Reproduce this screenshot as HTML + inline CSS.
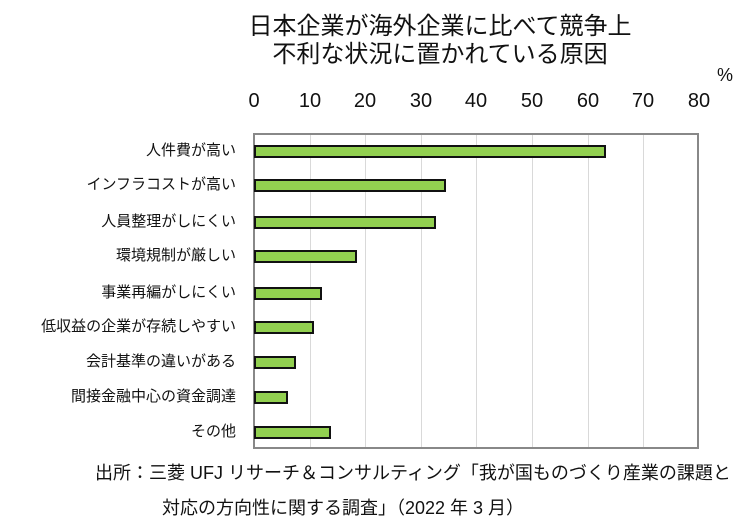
<!DOCTYPE html>
<html><head><meta charset="utf-8"><style>
body{margin:0;width:750px;height:530px;background:#fff;position:relative;overflow:hidden;font-family:"Liberation Sans","Noto Sans CJK JP",sans-serif;color:#111}
.t{position:absolute;white-space:nowrap}
.lab{position:absolute;right:514px;font-size:15px;line-height:16px;white-space:nowrap}
.tick{position:absolute;top:90px;font-size:20px;width:50px;text-align:center;margin-left:-25px}
.g{position:absolute;top:133px;height:316px;width:1px;background:#d9d9d9}
.bar{position:absolute;left:254px;height:13px;background:#92d050;border:2px solid #111;box-sizing:border-box}
</style></head><body>
<div class="t" style="left:0;width:880px;text-align:center;top:13px;font-size:24px;line-height:28px">日本企業が海外企業に比べて競争上<br>不利な状況に置かれている原因</div>
<div class="t" style="left:717px;top:65px;font-size:18px">%</div>
<div class="tick" style="left:254px">0</div><div class="tick" style="left:310px">10</div><div class="tick" style="left:365px">20</div><div class="tick" style="left:421px">30</div><div class="tick" style="left:476px">40</div><div class="tick" style="left:532px">50</div><div class="tick" style="left:588px">60</div><div class="tick" style="left:643px">70</div><div class="tick" style="left:699px">80</div>
<div class="g" style="left:310px"></div><div class="g" style="left:365px"></div><div class="g" style="left:421px"></div><div class="g" style="left:476px"></div><div class="g" style="left:532px"></div><div class="g" style="left:588px"></div><div class="g" style="left:643px"></div>
<div style="position:absolute;left:253px;top:133px;width:446px;height:316px;border:2px solid #888;box-sizing:border-box"></div>
<div class="bar" style="top:145px;width:352px"></div>
<div class="bar" style="top:179px;width:192px"></div>
<div class="bar" style="top:216px;width:182px"></div>
<div class="bar" style="top:250px;width:103px"></div>
<div class="bar" style="top:287px;width:68px"></div>
<div class="bar" style="top:321px;width:60px"></div>
<div class="bar" style="top:356px;width:42px"></div>
<div class="bar" style="top:391px;width:34px"></div>
<div class="bar" style="top:426px;width:77px"></div>
<div class="lab" style="top:143px">人件費が高い</div>
<div class="lab" style="top:177px">インフラコストが高い</div>
<div class="lab" style="top:214px">人員整理がしにくい</div>
<div class="lab" style="top:248px">環境規制が厳しい</div>
<div class="lab" style="top:285px">事業再編がしにくい</div>
<div class="lab" style="top:319px">低収益の企業が存続しやすい</div>
<div class="lab" style="top:354px">会計基準の違いがある</div>
<div class="lab" style="top:389px">間接金融中心の資金調達</div>
<div class="lab" style="top:424px">その他</div>
<div class="t" style="left:95px;top:459px;font-size:18px">出所：三菱 UFJ リサーチ＆コンサルティング「我が国ものづくり産業の課題と</div>
<div class="t" style="left:162px;top:494px;font-size:18px">対応の方向性に関する調査」（2022 年 3 月）</div>
</body></html>
